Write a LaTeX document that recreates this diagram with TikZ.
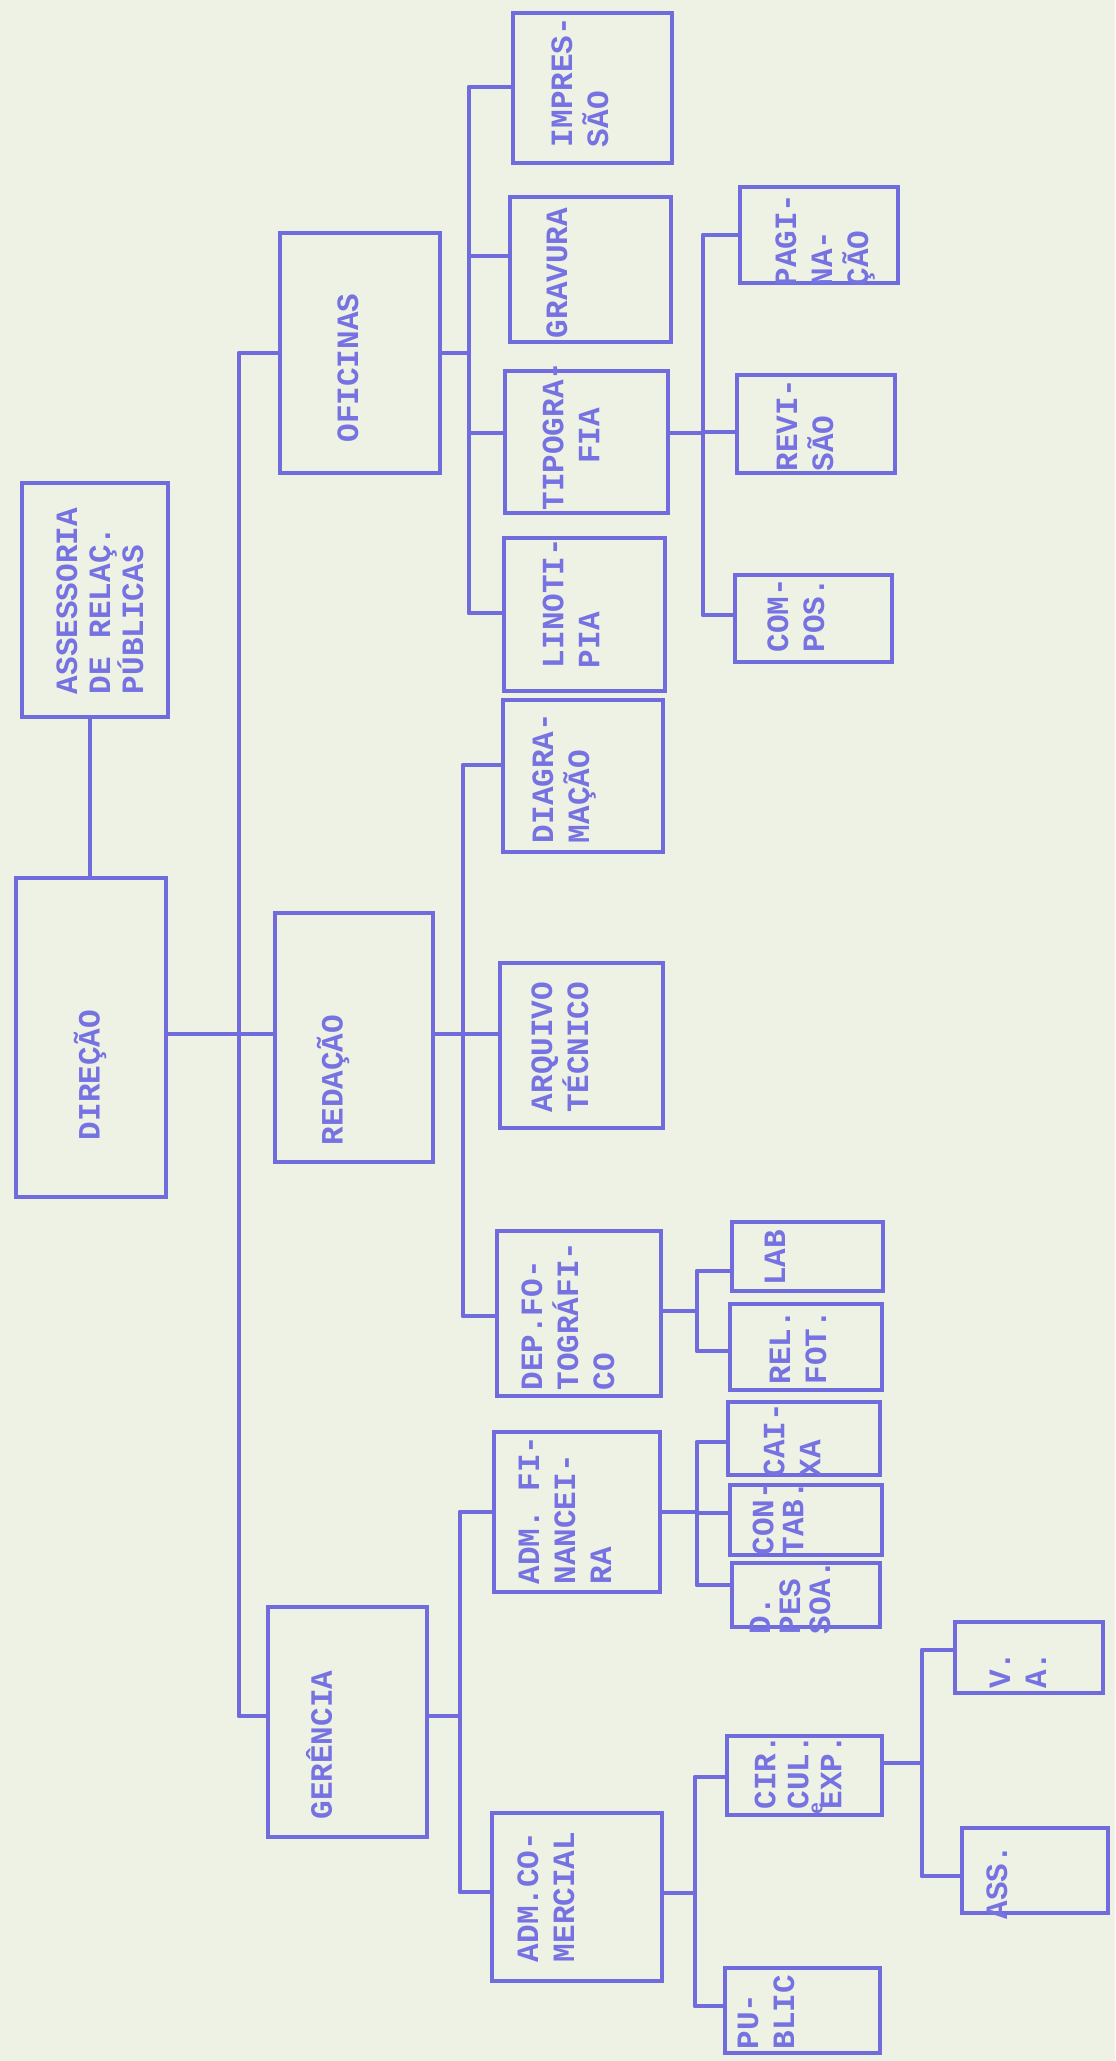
\documentclass[tikz,border=0pt]{standalone}
\usepackage{fontspec}
\newfontfamily\tw{Liberation Mono}
\definecolor{ink}{RGB}{112,108,222}
\definecolor{inkt}{RGB}{118,114,226}
\definecolor{paper}{RGB}{238,242,228}
\newcommand\bx[5]{\node[box,minimum width={(#4-#2)*0.5pt},minimum height={(#5-#3)*0.5pt}] (#1) at ({(#2+#4)/2},{(#3+#5)/2}) {};}
\begin{document}
\begin{tikzpicture}[x=0.5pt,y=-0.5pt,
  box/.style={draw=ink,line width=2pt,outer sep=0pt,inner sep=0pt},
  lbl/.style={text=inkt,font=\tw\bfseries\fontsize{15.5}{18}\selectfont,rotate=90,inner sep=0pt,align=left},
  con/.style={draw=ink,line width=2pt,line cap=round}]
\fill[paper] (0,0) rectangle (1115,2061);
\useasboundingbox (0,0) rectangle (1115,2061);
% boxes
\bx{assess}{22}{483}{168}{717}
\bx{dir}{16}{878}{166}{1197}
\bx{ofic}{280}{233}{440}{473}
\bx{red}{275}{913}{433}{1162}
\bx{ger}{268}{1607}{427}{1837}
\bx{impr}{513}{13}{672}{163}
\bx{grav}{510}{197}{671}{342}
\bx{tipo}{505}{371}{668}{513}
\bx{lino}{504}{538}{665}{691}
\bx{diag}{503}{700}{663}{852}
\bx{arq}{500}{963}{663}{1128}
\bx{depf}{497}{1231}{661}{1396}
\bx{admf}{494}{1432}{660}{1592}
\bx{admc}{492}{1813}{662}{1981}
\bx{pag}{740}{187}{898}{283}
\bx{rev}{737}{375}{895}{473}
\bx{comp}{735}{575}{892}{662}
\bx{lab}{732}{1222}{883}{1291}
\bx{rel}{730}{1304}{882}{1390}
\bx{caixa}{728}{1402}{880}{1475}
\bx{cont}{730}{1485}{882}{1555}
\bx{dpes}{732}{1563}{880}{1627}
\bx{circ}{727}{1736}{882}{1815}
\bx{publ}{725}{1968}{880}{2053}
\bx{va}{955}{1622}{1103}{1693}
\bx{ass}{962}{1828}{1108}{1913}
% labels
\node[lbl,font=\tw\bfseries\fontsize{15.5}{16.5}\selectfont] (assessT) at (100,601) {ASSESSORIA\\DE RELAÇ.\\PÚBLICAS};
\node[lbl] (dirT) at (90,1075) {DIREÇÃO};
\node[lbl] (oficT) at (348,368) {OFICINAS};
\node[lbl] (redT) at (333,1080) {REDAÇÃO};
\node[lbl] (gerT) at (319,1745) {GERÊNCIA};
\node[lbl] (imprT) at (580,82) {IMPRES-\\SÃO};
\node[lbl] (gravT) at (557,273) {GRAVURA};
\node[lbl,align=center] (tipoT) at (571,436) {TIPOGRA-\\FIA};
\node[lbl] (linoT) at (571,603) {LINOTI-\\PIA};
\node[lbl] (diagT) at (564,778) {DIAGRA-\\MAÇÃO};
\node[lbl] (arqT) at (560,1047) {ARQUIVO\\TÉCNICO};
\node[lbl] (depfT) at (568,1316) {DEP.FO-\\TOGRÁFI-\\CO};
\node[lbl] (admfT) at (565,1510) {ADM. FI-\\NANCEI-\\RA};
\node[lbl] (admcT) at (546,1897) {ADM.CO-\\MERCIAL};
\node[lbl] (pagT) at (825,240) {PAGI-\\NA-\\ÇÃO};
\node[lbl] (revT) at (805,425) {REVI-\\SÃO};
\node[lbl] (compT) at (796,615) {COM-\\POS.};
\node[lbl] (labT) at (775,1258) {LAB};
\node[lbl] (relT) at (798,1347) {REL.\\FOT.};
\node[lbl] (caixaT) at (792,1440) {CAI-\\XA};
\node[lbl,font=\tw\bfseries\fontsize{15.5}{15}\selectfont] (contT) at (778,1518) {CON-\\TAB.};
\node[lbl,font=\tw\bfseries\fontsize{15.5}{15}\selectfont] (dpesT) at (790,1597) {D.\\PES\\SOA.};
\node[lbl,font=\tw\bfseries\fontsize{15.5}{16.5}\selectfont] (circT) at (798,1772) {CIR.\\CUL.\\EXP.};
\node[lbl,font=\tw\bfseries\fontsize{10}{10}\selectfont] (circE) at (817,1808) {e};
\node[lbl] (publT) at (766,2012) {PU-\\BLIC};
\node[lbl] (vaT) at (1018,1670) {V.\\A.};
\node[lbl] (assT) at (997,1882) {ASS.};
% connectors level 1
\coordinate (aD) at (90,800);
\draw[con] (assess.south -| aD) -- (dir.north -| aD);
\coordinate (tA) at (239,353);
\coordinate (tB) at (239,1034);
\coordinate (tC) at (239,1716);
\draw[con] (tA) -- (tC);
\draw[con] (tA) -- (ofic.west |- tA);
\draw[con] (dir.east |- tB) -- (red.west |- tB);
\draw[con] (tC) -- (ger.west |- tC);
% oficinas
\coordinate (oP) at (469,353);
\coordinate (o1) at (469,87);
\coordinate (o2) at (469,256);
\coordinate (o3) at (469,433);
\coordinate (o4) at (469,613);
\draw[con] (ofic.east |- oP) -- (oP);
\draw[con] (o1) -- (o4);
\draw[con] (o1) -- (impr.west |- o1);
\draw[con] (o2) -- (grav.west |- o2);
\draw[con] (o3) -- (tipo.west |- o3);
\draw[con] (o4) -- (lino.west |- o4);
% tipografia
\coordinate (pP) at (703,433);
\coordinate (p1) at (703,235);
\coordinate (p2) at (703,432);
\coordinate (p3) at (703,615);
\draw[con] (tipo.east |- pP) -- (pP);
\draw[con] (p1) -- (p3);
\draw[con] (p1) -- (pag.west |- p1);
\draw[con] (p2) -- (rev.west |- p2);
\draw[con] (p3) -- (comp.west |- p3);
% redacao
\coordinate (rP) at (463,1034);
\coordinate (r1) at (463,765);
\coordinate (r3) at (463,1316);
\draw[con] (red.east |- rP) -- (arq.west |- rP);
\draw[con] (r1) -- (r3);
\draw[con] (r1) -- (diag.west |- r1);
\draw[con] (r3) -- (depf.west |- r3);
% dep foto
\coordinate (fP) at (697,1311);
\coordinate (f1) at (697,1271);
\coordinate (f2) at (697,1351);
\draw[con] (depf.east |- fP) -- (fP);
\draw[con] (f1) -- (f2);
\draw[con] (f1) -- (lab.west |- f1);
\draw[con] (f2) -- (rel.west |- f2);
% gerencia
\coordinate (gP) at (460,1716);
\coordinate (g1) at (460,1512);
\coordinate (g2) at (460,1892);
\draw[con] (ger.east |- gP) -- (gP);
\draw[con] (g1) -- (g2);
\draw[con] (g1) -- (admf.west |- g1);
\draw[con] (g2) -- (admc.west |- g2);
% adm fin
\coordinate (aP) at (697,1512);
\coordinate (a1) at (697,1442);
\coordinate (a2) at (697,1513);
\coordinate (a3) at (697,1585);
\draw[con] (admf.east |- aP) -- (aP);
\draw[con] (a1) -- (a3);
\draw[con] (a1) -- (caixa.west |- a1);
\draw[con] (a2) -- (cont.west |- a2);
\draw[con] (a3) -- (dpes.west |- a3);
% adm com
\coordinate (cP) at (695,1893);
\coordinate (c1) at (695,1777);
\coordinate (c2) at (695,2006);
\draw[con] (admc.east |- cP) -- (cP);
\draw[con] (c1) -- (c2);
\draw[con] (c1) -- (circ.west |- c1);
\draw[con] (c2) -- (publ.west |- c2);
% circul
\coordinate (eP) at (922,1763);
\coordinate (e1) at (922,1650);
\coordinate (e2) at (922,1876);
\draw[con] (circ.east |- eP) -- (eP);
\draw[con] (e1) -- (e2);
\draw[con] (e1) -- (va.west |- e1);
\draw[con] (e2) -- (ass.west |- e2);
\end{tikzpicture}
\end{document}
